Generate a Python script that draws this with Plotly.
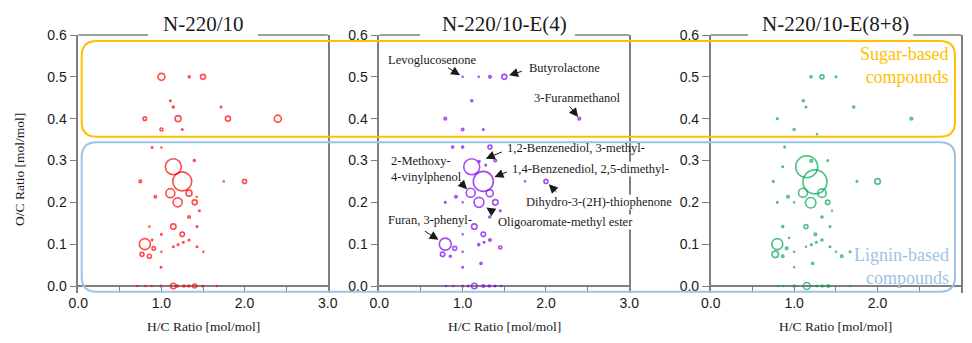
import plotly.graph_objects as go

# page body has an 8px margin: the figure is placed at (8, 8) on a 972x343 page
OFF = 8
W, H = 972 - 2 * OFF, 343 - 2 * OFF

# ---------------- data (H/C, O/C, bubble size) ----------------
titles = ["N-220/10", "N-220/10-E(4)", "N-220/10-E(8+8)"]
colors = ["#FF0000", "#8000F0", "#00A651"]

hc1 = [1.0, 1.335, 1.5, 1.107, 1.143, 1.717, 0.8, 1.2, 1.8, 2.4, 1.0, 1.25,
       0.887, 1.0, 1.396, 1.143, 1.25, 0.746, 1.749, 2.0, 1.107, 1.332, 0.927, 1.424,
       1.195, 1.4, 1.456, 1.332, 0.855, 1.143, 1.428, 1.0, 1.25, 1.332, 0.887, 0.8,
       1.263, 1.2, 1.143, 0.907, 1.428, 1.0, 1.504, 0.766, 0.855, 0.995,
       1.143, 1.4, 0.71, 0.806, 0.883, 0.995, 1.19, 1.27, 1.33, 1.497, 1.665]
oc1 = [0.5, 0.5, 0.5, 0.443, 0.428, 0.428, 0.4, 0.4, 0.4, 0.4, 0.374, 0.374,
       0.331, 0.331, 0.3, 0.285, 0.25, 0.25, 0.25, 0.25, 0.222, 0.222, 0.2135, 0.2135,
       0.2, 0.2, 0.18, 0.165, 0.142, 0.142, 0.142, 0.1235, 0.1235, 0.11, 0.11, 0.1,
       0.1045, 0.0988, 0.094, 0.09, 0.094, 0.082, 0.082, 0.0757, 0.071, 0.0447,
       0, 0, 0, 0, 0, 0, 0, 0, 0, 0, 0]
sz1 = [7, 2, 5, 1.5, 2, 1.5, 3.5, 6, 5, 7, 3, 1.5,
       1.5, 1, 2, 16, 19, 2.5, 1, 4, 9, 6, 2.5, 1,
       9, 5, 1.5, 2.5, 1, 5.5, 1.5, 1.5, 4.5, 1.5, 1.5, 11,
       1.5, 1.5, 1.5, 3.5, 1.5, 1, 1, 4, 4, 1.5,
       5.5, 4, 1, 1, 1, 1.5, 2, 2, 2, 1.5, 1]

hc2 = [1.0, 1.193, 1.328, 1.5, 1.109, 0.792, 2.4, 1.0, 1.248,
       0.88, 1.0, 1.328, 1.109, 1.2, 1.392, 1.277, 1.248, 1.749, 2.0, 1.097, 1.325,
       0.92, 1.196, 1.392, 0.792, 1.0, 1.452, 1.325, 1.14, 1.248, 1.328, 1.193, 1.256,
       1.0, 0.792, 0.905, 1.452, 0.76, 0.852, 1.0, 1.22, 1.0,
       1.14, 0.8, 0.888, 1.0, 1.068, 1.248, 1.32, 1.388, 1.46]
oc2 = [0.5, 0.5, 0.5, 0.5, 0.443, 0.4, 0.4, 0.374, 0.374,
       0.332, 0.332, 0.332, 0.285, 0.298, 0.3, 0.289, 0.25, 0.25, 0.25, 0.223, 0.222,
       0.2135, 0.2, 0.2, 0.2, 0.2, 0.18, 0.165, 0.142, 0.1235, 0.11, 0.0988, 0.1045,
       0.1235, 0.1, 0.09, 0.092, 0.0757, 0.071, 0.082, 0.054, 0.0447,
       0, 0, 0, 0, 0, 0, 0, 0, 0]
sz2 = [1, 1, 2.5, 5, 2, 2.5, 2.5, 2.5, 1.5,
       2, 2, 4, 16, 1.5, 2.5, 1.5, 20, 1, 4, 9, 7,
       2.5, 10, 5.5, 1.5, 1, 1.5, 2, 5.5, 4.5, 2.5, 2, 1.5,
       1, 12, 4, 3, 4.5, 2, 1, 2, 1.5,
       5.5, 1, 1, 1.5, 1.5, 2.5, 2, 1.5, 1]

hc3 = [1.202, 1.334, 1.502, 1.11, 1.142, 1.714, 0.798, 2.405, 1.0, 1.274,
       0.886, 1.151, 1.206, 1.402, 0.863, 1.25, 0.75, 1.753, 2.0, 1.106, 1.334,
       0.926, 1.0, 0.798, 1.198, 1.402, 1.454, 1.334, 0.863, 1.142, 1.43, 1.254,
       1.334, 0.94, 1.266, 1.206, 1.142, 0.798, 0.91, 1.43, 1.502, 1.67, 1.57,
       0.774, 0.863, 1.0, 1.222, 1.0,
       1.151, 0.803, 0.87, 1.0, 1.27, 1.337, 1.409, 1.67]
oc3 = [0.5, 0.5, 0.5, 0.443, 0.428, 0.428, 0.4, 0.4, 0.374, 0.363,
       0.332, 0.285, 0.299, 0.3, 0.285, 0.249, 0.25, 0.25, 0.25, 0.223, 0.222,
       0.2135, 0.2, 0.2, 0.199, 0.2, 0.18, 0.165, 0.142, 0.142, 0.142, 0.1235,
       0.11, 0.115, 0.1045, 0.0988, 0.094, 0.1, 0.09, 0.094, 0.082, 0.082, 0.071,
       0.0757, 0.071, 0.082, 0.054, 0.0447,
       0, 0, 0, 0, 0, 0, 0, 0]
sz3 = [2, 4, 1.5, 2, 1.5, 2, 1.5, 2.5, 2, 1,
       1.5, 22, 2.5, 1.5, 1.5, 24, 1.5, 1.5, 5.5, 9, 8.5,
       2.5, 1, 1.5, 10.5, 4.5, 1, 2, 2, 4, 1.5, 2.5,
       2, 1, 1.5, 1.5, 1, 11, 2.5, 1.5, 1, 1.5, 2.5,
       6.5, 2.5, 1, 2, 1,
       7, 1, 1, 2, 1.5, 2, 2.5, 1]

series = [(hc1, oc1, sz1), (hc2, oc2, sz2), (hc3, oc3, sz3)]

# labelled compounds in panel 2: (text, H/C, O/C, label H/C, label O/C, arrow dx, arrow dy, standoff, white bg)
labels = [
    ("Levoglucosenone", 1.0, 0.5, 0.089, 0.540, -16, -10, 3, False),
    ("Butyrolactone", 1.5, 0.5, 1.781, 0.520, 19, -6, 5, False),
    ("3-Furanmethanol", 2.4, 0.4, 1.848, 0.449, -11, -14, 2, False),
    ("1,2-Benzenediol, 3-methyl-", 1.2, 0.298, 1.517, 0.329, 24, -10, 7, False),
    ("2-Methoxy-<br>4-vinylphenol", 1.097, 0.223, 0.128, 0.279, -12, -12, 5, False),
    ("1,4-Benzenediol, 2,5-dimethyl-", 1.248, 0.25, 1.580, 0.280, 25, -10, 12, True),
    ("Dihydro-3-(2H)-thiophenone", 2.0, 0.25, 1.748, 0.200, 12, 12, 4, True),
    ("Oligoaromate-methyl ester", 1.196, 0.2, 1.409, 0.154, 16, 11, 9, True),
    ("Furan, 3-phenyl-", 0.792, 0.1, 0.089, 0.158, -22, -14, 8, False),
]

x_ticks = [0, 0.5, 1.0, 1.5, 2.0, 2.5, 3.0]
x_ticktext = ["0.0", "", "1.0", "", "2.0", "", "3.0"]
y_ticks = [0.0, 0.1, 0.2, 0.3, 0.4, 0.5, 0.6]
y_ticktext = ["0.0", "0.1", "0.2", "0.3", "0.4", "0.5", "0.6"]

# ---------------- layout geometry (page pixels) ----------------
panels_px = [(78.3, 327.7), (379.3, 629.3), (710.7, 961.0)]
title_gaps = [(148, 258), (420, 575), (748, 913)]
TOP, BOT = 35.0, 293.0
Y_RANGE = [-7.0 / ((286.0 - 35.0) / 0.6), 0.6]

def px(x):
    return (x - OFF) / W

def py(y):
    return 1 - (y - OFF) / H

SERIF = "Liberation Serif, Times New Roman, serif"
SANS = "Liberation Sans, Arial, sans-serif"
GREY = "#7f7f7f"

fig = go.Figure()

for i, ((hc, oc, sz), col) in enumerate(zip(series, colors)):
    n = i + 1
    fig.add_trace(go.Scatter(
        x=hc, y=oc, mode="markers",
        marker=dict(symbol="circle-open", size=sz, color=col, line=dict(width=1.6, color=col)),
        xaxis=f"x{n}", yaxis=f"y{n}", showlegend=False, cliponaxis=False,
    ))

layout = dict(
    width=W, height=H, autosize=False,
    margin=dict(l=0, r=0, t=0, b=0, pad=0, autoexpand=False),
    paper_bgcolor="white", plot_bgcolor="white", showlegend=False,
)
for i, (l, r) in enumerate(panels_px):
    n = i + 1
    sfx = "" if n == 1 else str(n)
    layout[f"xaxis{sfx}"] = dict(
        domain=[px(l), px(r)], range=[0, 3], anchor=f"y{n}", automargin=False,
        tickvals=x_ticks, ticktext=x_ticktext, ticks="inside", ticklen=7,
        tickcolor=GREY, tickwidth=1.3, showgrid=False, zeroline=False, showline=False,
        tickfont=dict(family=SANS, size=14, color="#1a1a1a"),
    )
    layout[f"yaxis{sfx}"] = dict(
        domain=[py(BOT), py(TOP)], range=Y_RANGE, anchor=f"x{n}", automargin=False,
        tickvals=y_ticks, ticktext=y_ticktext, ticks="outside", ticklen=7,
        tickcolor=GREY, tickwidth=1.3, showgrid=False,
        zeroline=True, zerolinecolor=GREY, zerolinewidth=1.5,
        showline=True, linecolor=GREY, linewidth=1.5, mirror=True,
        tickfont=dict(family=SANS, size=14, color="#1a1a1a"),
    )
fig.update_layout(**layout)

shapes = []
# top frame lines broken by panel titles
for (l, r), (g0, g1) in zip(panels_px, title_gaps):
    for a, b in [(l, g0), (g1, r)]:
        shapes.append(dict(type="line", xref="paper", yref="paper",
                           x0=px(a), x1=px(b), y0=py(TOP), y1=py(TOP),
                           line=dict(color=GREY, width=1.5), layer="above"))

def rounded_rect(L, R, T, B, rad):
    rx, ry = rad / W, rad / H
    l, r, t, b = px(L), px(R), py(T), py(B)
    return (f"M {l+rx},{t} L {r-rx},{t} Q {r},{t} {r},{t-ry} "
            f"L {r},{b+ry} Q {r},{b} {r-rx},{b} L {l+rx},{b} "
            f"Q {l},{b} {l},{b+ry} L {l},{t-ry} Q {l},{t} {l+rx},{t} Z")

shapes.append(dict(type="path", xref="paper", yref="paper",
                   path=rounded_rect(81.7, 955, 41, 136.7, 15),
                   line=dict(color="#FFC000", width=2), layer="above"))
shapes.append(dict(type="path", xref="paper", yref="paper",
                   path=rounded_rect(81.7, 955, 142.3, 291.7, 15),
                   line=dict(color="#9DC3E6", width=2), layer="above"))
fig.update_layout(shapes=shapes)

ann = []
for (l, r), t in zip(panels_px, titles):
    ann.append(dict(text=t, x=px((l + r) / 2), y=py(24), xref="paper", yref="paper",
                    xanchor="center", yanchor="middle", showarrow=False,
                    font=dict(family=SERIF, size=21, color="#1a1a1a")))
    ann.append(dict(text="H/C Ratio [mol/mol]", x=px((l + r) / 2), y=py(326),
                    xref="paper", yref="paper", xanchor="center", yanchor="middle",
                    showarrow=False, borderpad=0,
                    font=dict(family=SERIF, size=13.5, color="#1a1a1a")))
ann.append(dict(text="O/C Ratio [mol/mol]", x=px(19), y=py(170), xref="paper", yref="paper",
                xanchor="center", yanchor="middle", textangle=-90, showarrow=False,
                font=dict(family=SERIF, size=13.5, color="#1a1a1a")))
ann.append(dict(text="Sugar-based<br>compounds", x=px(951), y=py(66), xref="paper", yref="paper",
                xanchor="right", yanchor="middle", align="right", showarrow=False,
                font=dict(family=SERIF, size=18, color="#FFC000")))
ann.append(dict(text="Lignin-based<br>compounds", x=px(951), y=py(266), xref="paper", yref="paper",
                xanchor="right", yanchor="middle", align="right", showarrow=False,
                font=dict(family=SERIF, size=18, color="#9DC3E6")))

for text, x, y, lx, ly, dx, dy, so, bg in labels:
    ann.append(dict(text="", x=x, y=y, xref="x2", yref="y2", ax=dx, ay=dy,
                    showarrow=True, arrowhead=2, arrowsize=1.8, arrowwidth=1,
                    arrowcolor="#1a1a1a", standoff=so))
    ann.append(dict(text=text, x=lx, y=ly, xref="x2", yref="y2", xanchor="left",
                    yanchor="middle", align="left", showarrow=False,
                    bgcolor="white" if bg else "rgba(0,0,0,0)", borderpad=0,
                    font=dict(family=SERIF, size=12.5, color="#1a1a1a")))
fig.update_layout(annotations=ann)

fig.write_html("out.html", config={"responsive": False})
